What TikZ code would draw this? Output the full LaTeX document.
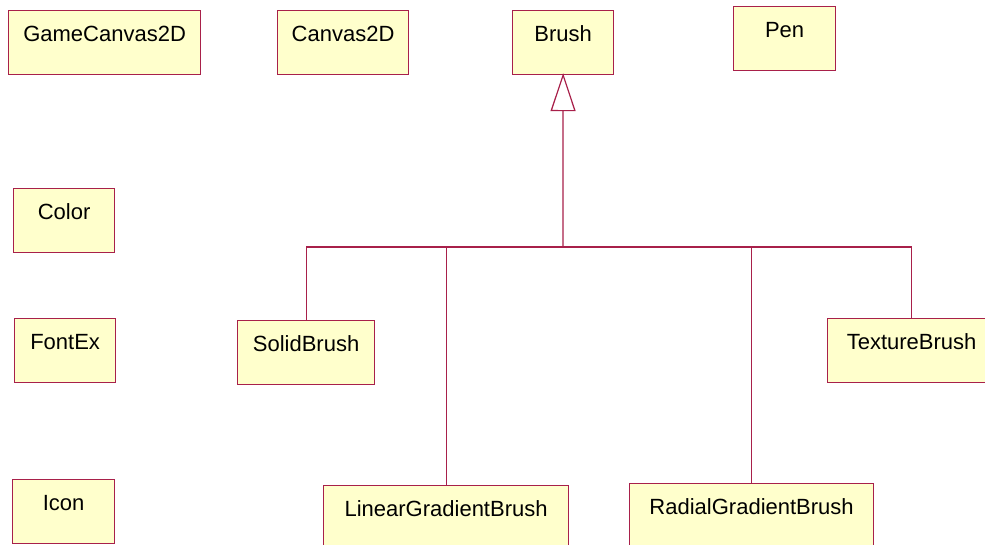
\documentclass[tikz,border=0pt]{standalone}
\usepackage{fontspec}
\setmainfont{Liberation Sans}
\usetikzlibrary{arrows.meta}
\definecolor{classfill}{HTML}{FFFFCC}
\definecolor{classline}{HTML}{A8204A}
\tikzset{
  classbox/.style={draw=classline, fill=classfill, line width=1.2pt,
    rectangle, inner sep=0pt, anchor=north west,
    text height=31pt, text depth=33pt, align=center,
    font=\fontsize{22}{26}\selectfont},
  wire/.style={draw=classline, line width=1.2pt},
  inherit/.style={wire, -{Triangle[open, length=38pt, width=25pt, line width=1.2pt]}}
}
\begin{document}
\begin{tikzpicture}[x=1pt, y=-1pt]
  \useasboundingbox (0,0) rectangle (985,544);
  \clip (0,0) rectangle (985,544);

  % stand-alone classes
  \node[classbox, minimum width=192pt] (gamecanvas) at (8,10)   {GameCanvas2D};
  \node[classbox, minimum width=131pt] (canvas)     at (277,10) {Canvas2D};
  \node[classbox, minimum width=102pt] (pen)        at (733,6)  {Pen};
  \node[classbox, minimum width=101pt] (color)      at (13,188) {Color};
  \node[classbox, minimum width=101pt] (fontex)     at (14,318) {FontEx};
  \node[classbox, minimum width=102pt] (icon)       at (12,479) {Icon};

  % brush hierarchy
  \node[classbox, minimum width=101pt] (brush)   at (512,10)  {Brush};
  \node[classbox, minimum width=137pt] (solid)   at (237,320) {SolidBrush};
  \node[classbox, minimum width=245pt] (linear)  at (323,485) {LinearGradientBrush};
  \node[classbox, minimum width=244pt] (radial)  at (629,483) {RadialGradientBrush};
  \node[classbox, minimum width=168pt] (texture) at (827,318) {TextureBrush};

  \coordinate (bus) at (563,247);
  \draw[wire] (solid.north)   |- (bus);
  \draw[wire] (linear.north)  |- (bus);
  \draw[wire] (radial.north)  |- (bus);
  \draw[wire] (texture.north) |- (bus);
  \draw[inherit] (bus) -- ([yshift=2pt]brush.south);
\end{tikzpicture}
\end{document}
